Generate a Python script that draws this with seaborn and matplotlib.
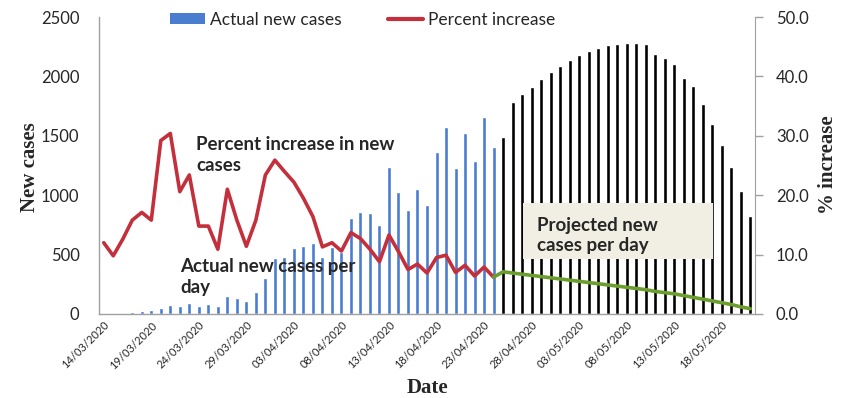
import pandas as pd
import seaborn as sns
import matplotlib.pyplot as plt
from matplotlib.patches import Patch, Rectangle
from matplotlib.lines import Line2D

sns.set_style('white')
plt.rcParams['font.family'] = ['Lato', 'DejaVu Sans']

# daily new cases, 14/03/2020 - 24/04/2020 (observed)
actual_cases = [5, 8, 10, 15, 25, 30, 50, 73, 64, 90, 70, 81, 70, 154, 131, 112, 182, 302,
                470, 478, 553, 573, 601, 478, 560, 520, 805, 861, 847, 749, 1239, 1029, 875,
                1051, 914, 1365, 1572, 1233, 1527, 1284, 1661, 1404]
# projected new cases, 25/04/2020 - 21/05/2020
projected_cases = [1488, 1784, 1851, 1913, 1977, 2033, 2089, 2137, 2179, 2215, 2243, 2265,
                   2276, 2282, 2282, 2271, 2187, 2153, 2103, 1986, 1915, 1768, 1600, 1426,
                   1236, 1032, 822]
# percent increase, observed
actual_pct = [12.0, 9.8, 12.6, 15.8, 17.1, 15.8, 29.2, 30.4, 20.6, 23.4, 14.8, 14.8, 10.9,
              21.0, 15.8, 11.4, 15.8, 23.4, 25.9, 24.0, 22.2, 19.5, 16.4, 11.3, 12.0, 10.6,
              13.7, 12.7, 10.9, 8.8, 13.3, 10.5, 7.5, 8.4, 6.9, 9.5, 9.9, 7.0, 8.2, 6.4, 7.9, 6.2]
# percent increase, projected (starts at the last observed day)
projected_pct = [6.2, 7.1, 6.9, 6.7, 6.5, 6.3, 6.1, 5.9, 5.7, 5.5, 5.3, 5.1, 4.9, 4.7, 4.5,
                 4.3, 4.1, 3.8, 3.6, 3.4, 3.1, 2.8, 2.5, 2.2, 1.9, 1.6, 1.2, 0.9]

dates = list(pd.date_range('2020-03-14', '2020-05-21').strftime('%d/%m/%Y'))
n_act = len(actual_cases)

blue = '#4a7cd0'
red = '#c3303c'
green = '#6c9e2e'
grey = '#a0a0a0'

df = pd.DataFrame({'date': dates,
                   'cases': actual_cases + projected_cases,
                   'phase': ['Actual'] * n_act + ['Projected'] * len(projected_cases)})

fig = plt.figure(figsize=(8.5, 3.98), dpi=100)
ax = fig.add_axes([99 / 850, 1 - 314 / 398, 656 / 850, 297 / 398])

sns.barplot(data=df, x='date', y='cases', hue='phase', dodge=False, width=0.42,
            palette={'Actual': blue, 'Projected': 'black'}, saturation=1,
            legend=False, ax=ax)
ax.set_ylim(0, 2500)
ax.set_yticks(range(0, 2501, 500))
ax.set_xticks(range(0, len(dates), 5))
ax.set_xticklabels(dates[::5], rotation=45, ha='right', rotation_mode='anchor', fontsize=8)
ax.set_xlabel('')
ax.set_ylabel('')
ax.tick_params(axis='y', length=0, pad=14, labelsize=12)
ax.tick_params(axis='x', length=0, pad=4)
for s in ['top', 'right']:
    ax.spines[s].set_visible(False)
for s in ['left', 'bottom']:
    ax.spines[s].set_color(grey)
    ax.spines[s].set_linewidth(1)

ax2 = ax.twinx()
sns.lineplot(x=list(range(n_act)), y=actual_pct, color=red, lw=2.6, ax=ax2)
sns.lineplot(x=list(range(n_act - 1, len(dates))), y=projected_pct, color=green, lw=2.6, ax=ax2)
ax2.set_ylim(0, 50)
ax2.set_yticks(range(0, 51, 10))
ax2.set_yticklabels([f'{v:.1f}' for v in range(0, 51, 10)])
ax2.tick_params(axis='y', length=6, width=1, color=grey, pad=9, labelsize=12)
for s in ['top', 'left', 'bottom']:
    ax2.spines[s].set_visible(False)
ax2.spines['right'].set_color(grey)
ax.set_xlim(-0.5, len(dates) - 0.5)

# projected box
ax2.add_patch(Rectangle((0.646, 0.185), 0.29, 0.189, transform=ax2.transAxes,
                        facecolor='#f1efe3', edgecolor='none', zorder=5))
ax2.text(0.668, 0.265, 'Projected new\ncases per day', transform=ax2.transAxes,
         fontsize=13.5, fontweight='bold', va='center', ha='left', linespacing=1.25, zorder=6)

fig.text(196 / 850, 1 - 155 / 398, 'Percent increase in new\ncases', fontsize=13.5,
         fontweight='bold', va='center', ha='left', linespacing=1.25)
fig.text(180 / 850, 1 - 277 / 398, 'Actual new cases per\nday', fontsize=13.5,
         fontweight='bold', va='center', ha='left', linespacing=1.25)

serif = ['Liberation Serif', 'DejaVu Serif']
fig.text(30 / 850, 1 - 167 / 398, 'New cases', rotation=90, fontsize=15, fontweight='bold',
         family=serif, ha='center', va='center')
fig.text(828 / 850, 1 - 165 / 398, '% increase', rotation=90, fontsize=15, fontweight='bold',
         family=serif, ha='center', va='center')
fig.text(427 / 850, 1 - 388 / 398, 'Date', fontsize=15, fontweight='bold',
         family=serif, ha='center', va='center')

handles = [Patch(facecolor=blue, edgecolor='none'), Line2D([], [], color=red, lw=3)]
fig.legend(handles, ['Actual new cases', 'Percent increase'], loc='center left',
           bbox_to_anchor=(170 / 850, 1 - 20 / 398), ncol=2, frameon=False, fontsize=12.5,
           borderpad=0, borderaxespad=0, handlelength=2.0, handleheight=0.6,
           handletextpad=0.3, columnspacing=2.7)

fig.savefig('out.png', dpi=100)
